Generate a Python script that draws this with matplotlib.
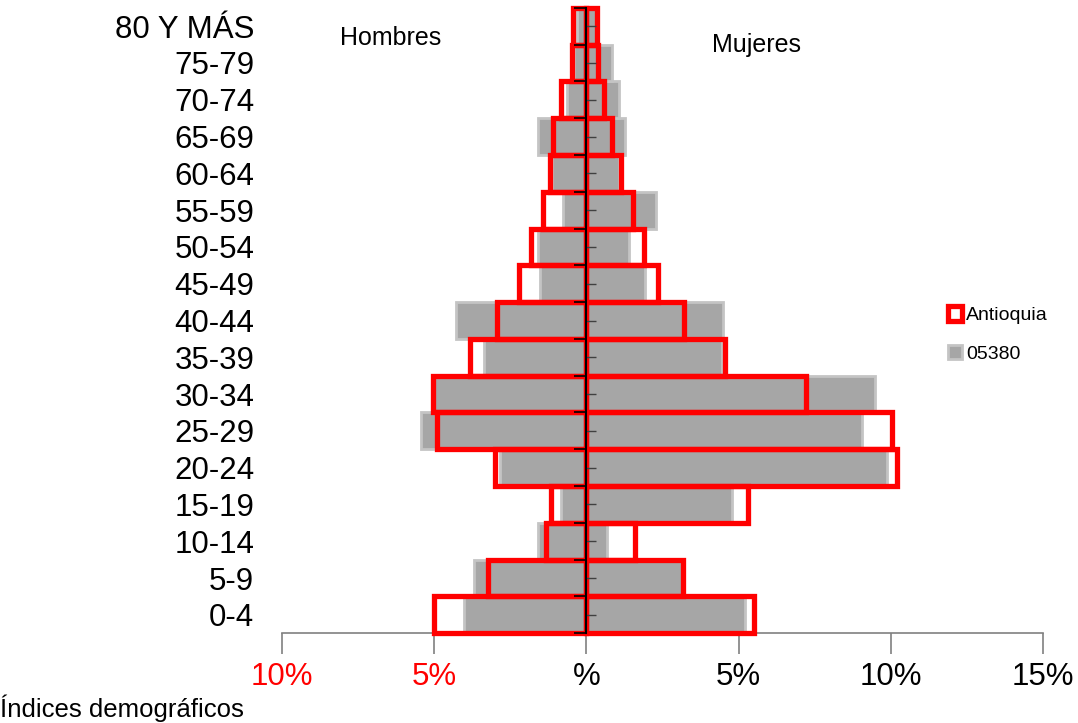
import numpy as np
import matplotlib
matplotlib.use("Agg")
import matplotlib.pyplot as plt
from matplotlib.ticker import FixedLocator

plt.rcParams['font.family'] = ['Liberation Sans', 'DejaVu Sans']

# age groups, bottom to top
groups = ['0-4', '5-9', '10-14', '15-19', '20-24', '25-29', '30-34', '35-39', '40-44',
          '45-49', '50-54', '55-59', '60-64', '65-69', '70-74', '75-79', '80 Y MÁS']

# municipality 05380 (percent of population)
men_05380 = [4.02, 3.69, 1.60, 0.82, 2.85, 5.42, 5.00, 3.37, 4.27,
             1.51, 1.60, 0.78, 1.12, 1.60, 0.63, 0.42, 0.30]
women_05380 = [5.21, 3.15, 0.68, 4.78, 9.88, 9.04, 9.48, 4.46, 4.50,
               1.93, 1.40, 2.28, 1.06, 1.28, 1.06, 0.83, 0.30]

# Antioquia (percent of population)
men_ant = [5.00, 3.24, 1.32, 1.15, 2.99, 4.90, 5.05, 3.84, 2.93,
           2.20, 1.81, 1.43, 1.21, 1.09, 0.82, 0.47, 0.44]
women_ant = [5.52, 3.19, 1.61, 5.30, 10.21, 10.05, 7.23, 4.56, 3.22,
             2.35, 1.89, 1.52, 1.14, 0.85, 0.57, 0.37, 0.36]

xticks = [-10, -5, 0, 5, 10, 15]
xlabels = ['10%', '5%', '%', '5%', '10%', '15%']

fig = plt.figure(figsize=(10.78, 7.23), dpi=100)
ax = fig.add_axes([0.2616, 0.1241, 0.7059, 0.8652])

y = np.arange(len(groups))
gray_kw = dict(height=1.0, color='#A6A6A6', edgecolor='#C4C4C4', linewidth=2, zorder=2)
ax.barh(y, -np.array(men_05380), **gray_kw)
g = ax.barh(y, women_05380, label='05380', **gray_kw)

red_kw = dict(height=1.0, facecolor='none', edgecolor='#FF0000', linewidth=3.8, zorder=3)
r = ax.barh(y, -np.array(men_ant), **red_kw)
ax.barh(y, women_ant, label='Antioquia', **red_kw)
for p in ax.patches:
    p.set_clip_on(False)

ax.set_xlim(-10, 15)
ax.set_ylim(-0.5, len(groups) - 0.5)

for s in ['top', 'right', 'left']:
    ax.spines[s].set_visible(False)
ax.spines['bottom'].set_color('#808080')
ax.spines['bottom'].set_linewidth(1.2)

ax.set_xticks(xticks, xlabels, fontsize=22.5)
ax.tick_params(axis='x', direction='out', length=15, width=1.2, color='#808080', pad=6)
for lab, v in zip(ax.get_xticklabels(), xticks):
    lab.set_color('#FF0000' if v < 0 else 'black')

ax.set_yticks(y, groups, fontsize=22.5)
ax.tick_params(axis='y', length=0, pad=20)

# vertical axis at zero with its own tick marks
sec = ax.secondary_yaxis(0.4)
sec.set_zorder(5)
sec.spines['left'].set_color('black')
sec.spines['left'].set_linewidth(1.5)
sec.yaxis.set_major_locator(FixedLocator(y))
sec.yaxis.set_minor_locator(FixedLocator(np.arange(len(groups) + 1) - 0.5))
sec.tick_params(which='major', direction='in', length=7, width=1, color='#404040', labelleft=False)
sec.tick_params(which='minor', direction='out', length=9, width=1.2, labelleft=False)

ax.text(-6.43, 15.68, 'Hombres', fontsize=18, ha='center', va='center')
ax.text(5.6, 15.49, 'Mujeres', fontsize=18, ha='center', va='center')

fig.legend(handles=[r, g], labels=['Antioquia', '05380'], loc='upper left',
           bbox_to_anchor=(0.872, 0.587), frameon=False, fontsize=14,
           handlelength=0.75, handleheight=0.75, handletextpad=0.2, labelspacing=1.05,
           borderaxespad=0)

fig.text(0.0, 0.02, 'Índices demográficos', fontsize=18.5, ha='left', va='center')

fig.savefig('out.png', dpi=100)
